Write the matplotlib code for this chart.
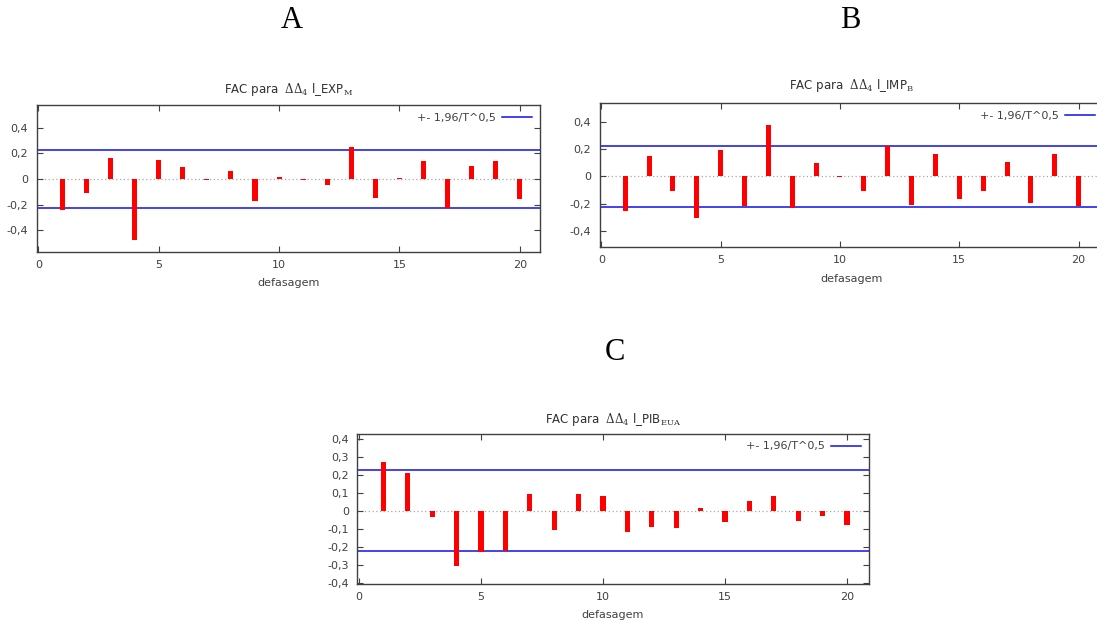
import numpy as np
import matplotlib
matplotlib.use("Agg")
import matplotlib.pyplot as plt
from matplotlib.ticker import FuncFormatter

plt.rcParams['font.family'] = ['DejaVu Sans']
plt.rcParams['mathtext.fontset'] = 'dejavuserif'

W, H = 1097, 624

lags = np.arange(1, 21)

# autocorrelations read per lag
fac_exp = [-0.244, -0.109, 0.166, -0.473, 0.151, 0.096, -0.010, 0.060, -0.169, 0.016,
           -0.010, -0.049, 0.252, -0.145, 0.010, 0.138, -0.223, 0.099, 0.138, -0.153]
fac_imp = [-0.256, 0.149, -0.110, -0.305, 0.190, -0.220, 0.373, -0.232, 0.100, -0.007,
           -0.110, 0.224, -0.207, 0.163, -0.163, -0.110, 0.107, -0.193, 0.163, -0.220]
fac_pib = [0.269, 0.207, -0.033, -0.307, -0.231, -0.224, 0.091, -0.106, 0.091, 0.080,
           -0.120, -0.093, -0.098, 0.017, -0.063, 0.054, 0.080, -0.057, -0.030, -0.080]
banda = 0.225  # +- 1,96/T^0,5

titulos = [r"FAC para  $\Delta\Delta_4$ l_EXP$_{\mathrm{M}}$",
           r"FAC para  $\Delta\Delta_4$ l_IMP$_{\mathrm{B}}$",
           r"FAC para  $\Delta\Delta_4$ l_PIB$_{\mathrm{EUA}}$"]
letras = ["A", "B", "C"]

# pixel boxes (left, top, right, bottom), limits, title baseline, letter position
# (painel B passa da borda direita da figura)
paineis = [
    dict(box=(36.7, 105, 540.2, 251.7), xlim=(-0.07, 20.85), ylim=(-0.565, 0.575),
         yt=[-0.4, -0.2, 0, 0.2, 0.4], tb=92.5, letra=(291.7, 28.3), dados=fac_exp),
    dict(box=(599.5, 103.3, 1103, 247), xlim=(-0.075, 21.02), ylim=(-0.518, 0.535),
         yt=[-0.4, -0.2, 0, 0.2, 0.4], tb=89, letra=(850, 27.5), dados=fac_imp),
    dict(box=(357.1, 433.7, 869, 583.7), xlim=(-0.08, 20.9), ylim=(-0.406, 0.428),
         yt=list(np.round(np.arange(-0.4, 0.41, 0.1), 1)), tb=423, letra=(615, 360.5),
         dados=fac_pib),
]


def virgula(v, pos):
    if abs(v) < 1e-9:
        return "0"
    return ("%g" % round(v, 1)).replace(".", ",")


fig = plt.figure(figsize=(W / 100, H / 100), dpi=100)
cinza = '#404040'

for i, p in enumerate(paineis):
    l, t, r, b = p['box']
    ax = fig.add_axes([l / W, 1 - b / H, (r - l) / W, (b - t) / H])
    ax.bar(lags, p['dados'], width=0.21, color='#ff0000', zorder=3)
    ax.axhline(0, color='#a8a8a8', lw=0.9, ls=(0, (1, 2)), zorder=1)
    ax.axhline(banda, color='#1010ee', lw=1.1, zorder=2, label='+- 1,96/T^0,5')
    ax.axhline(-banda, color='#1010ee', lw=1.1, zorder=2)
    ax.set_xlim(*p['xlim'])
    ax.set_ylim(*p['ylim'])
    ax.set_xticks([0, 5, 10, 15, 20])
    ax.set_yticks(p['yt'])
    ax.yaxis.set_major_formatter(FuncFormatter(virgula))
    ax.tick_params(direction='in', top=True, right=True, length=4, width=0.8,
                   colors=cinza, labelsize=8, pad=6)
    for s in ax.spines.values():
        s.set_color(cinza)
        s.set_linewidth(1.0)
    ax.set_xlabel('defasagem', fontsize=8, color=cinza, labelpad=6)
    ax.legend(loc='upper right', frameon=False, markerfirst=False, fontsize=8,
              handlelength=2.7, handletextpad=0.6, borderaxespad=0.3,
              labelcolor=cinza)

    fig.text(((l + r) / 2) / W, 1 - p['tb'] / H, titulos[i], ha='center',
             va='baseline', fontsize=8.5, color='#303030')
    lx, ly = p['letra']
    fig.text(lx / W, 1 - ly / H, letras[i], ha='center', va='baseline',
             fontsize=22, family='Liberation Serif', color='black')

fig.savefig('out.png', dpi=100)
